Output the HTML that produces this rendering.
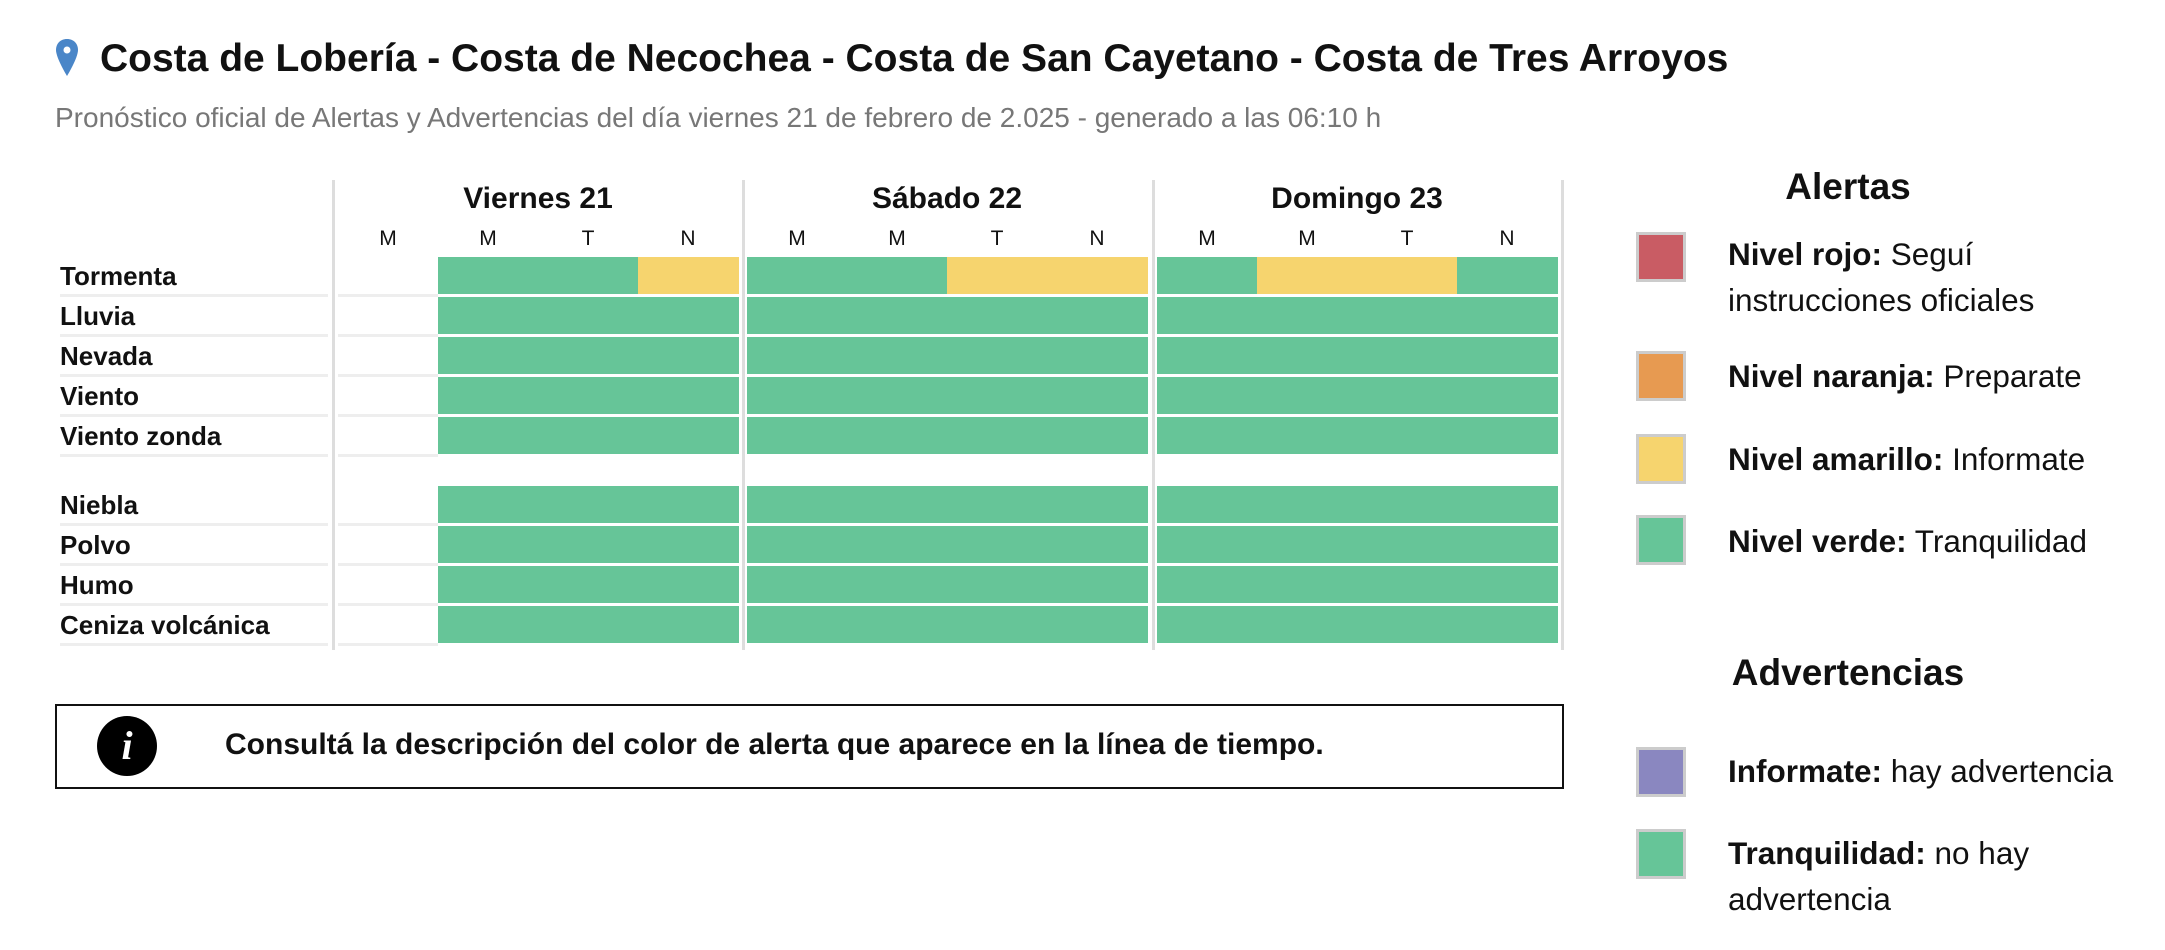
<!DOCTYPE html>
<html><head><meta charset="utf-8"><style>
*{margin:0;padding:0;box-sizing:border-box}
body{width:2165px;height:950px;background:#fff;position:relative;overflow:hidden;font-family:"Liberation Sans",Arial,sans-serif;color:#111}
.a{position:absolute;white-space:nowrap}
.lbl{position:absolute;left:60px;font-weight:bold;font-size:26px;width:268px;height:40px;border-bottom:3px solid #eee;line-height:38px}
.sep{position:absolute;height:3px;background:#eee}
.vl{position:absolute;width:3px;background:#ddd;top:180px;height:470px}
.day{position:absolute;font-weight:bold;font-size:30px;text-align:center;top:182px;width:400px}
.sl{position:absolute;font-size:21px;top:227px;width:100px;text-align:center}
.b{position:absolute;height:37px}
.g{background:#66c598}.y{background:#f6d46e}
.sw{position:absolute;left:1636px;width:50px;height:50px;border:3px solid #ccc}
.lt{position:absolute;left:1728px;font-size:31.5px;line-height:46px}
.lt b{font-weight:bold}
</style></head><body>
<svg class="a" style="left:54px;top:38px" width="26" height="40" viewBox="0 0 26 40"><path d="M13 1C6 1 2 6 2 12c0 8 11 26 11 26s11-18 11-26C24 6 20 1 13 1z" fill="#4a86c8"/><circle cx="13" cy="12" r="3.5" fill="#fff"/></svg>
<div class="a" style="left:100px;top:37px;font-size:39px;font-weight:bold">Costa de Lobería - Costa de Necochea - Costa de San Cayetano - Costa de Tres Arroyos</div>
<div class="a" style="left:55px;top:102px;font-size:28px;color:#777">Pronóstico oficial de Alertas y Advertencias del día viernes 21 de febrero de 2.025 - generado a las 06:10 h</div>

<div class="vl" style="left:332px"></div><div class="vl" style="left:742px"></div><div class="vl" style="left:1152px"></div><div class="vl" style="left:1561px"></div>
<div class="day" style="left:338px">Viernes 21</div>
<div class="day" style="left:747px">Sábado 22</div>
<div class="day" style="left:1157px">Domingo 23</div>
<div class="sl" style="left:338px">M</div><div class="sl" style="left:438px">M</div><div class="sl" style="left:538px">T</div><div class="sl" style="left:638px">N</div>
<div class="sl" style="left:747px">M</div><div class="sl" style="left:847px">M</div><div class="sl" style="left:947px">T</div><div class="sl" style="left:1047px">N</div>
<div class="sl" style="left:1157px">M</div><div class="sl" style="left:1257px">M</div><div class="sl" style="left:1357px">T</div><div class="sl" style="left:1457px">N</div>

<div class="lbl" style="top:257px">Tormenta</div>
<div class="lbl" style="top:297px">Lluvia</div>
<div class="lbl" style="top:337px">Nevada</div>
<div class="lbl" style="top:377px">Viento</div>
<div class="lbl" style="top:417px">Viento zonda</div>
<div class="lbl" style="top:486px">Niebla</div>
<div class="lbl" style="top:526px">Polvo</div>
<div class="lbl" style="top:566px">Humo</div>
<div class="lbl" style="top:606px">Ceniza volcánica</div>

<div class="sep" style="left:338px;width:100px;top:294px"></div>
<div class="sep" style="left:338px;width:100px;top:334px"></div>
<div class="sep" style="left:338px;width:100px;top:374px"></div>
<div class="sep" style="left:338px;width:100px;top:414px"></div>
<div class="sep" style="left:338px;width:100px;top:454px"></div>
<div class="sep" style="left:338px;width:100px;top:523px"></div>
<div class="sep" style="left:338px;width:100px;top:563px"></div>
<div class="sep" style="left:338px;width:100px;top:603px"></div>
<div class="sep" style="left:338px;width:100px;top:643px"></div>

<div class="b g" style="left:438px;width:200px;top:257px"></div><div class="b y" style="left:638px;width:101px;top:257px"></div>
<div class="b g" style="left:747px;width:200px;top:257px"></div><div class="b y" style="left:947px;width:201px;top:257px"></div>
<div class="b g" style="left:1157px;width:100px;top:257px"></div><div class="b y" style="left:1257px;width:200px;top:257px"></div><div class="b g" style="left:1457px;width:101px;top:257px"></div>
<div class="b g" style="left:438px;width:301px;top:297px"></div><div class="b g" style="left:747px;width:401px;top:297px"></div><div class="b g" style="left:1157px;width:401px;top:297px"></div>
<div class="b g" style="left:438px;width:301px;top:337px"></div><div class="b g" style="left:747px;width:401px;top:337px"></div><div class="b g" style="left:1157px;width:401px;top:337px"></div>
<div class="b g" style="left:438px;width:301px;top:377px"></div><div class="b g" style="left:747px;width:401px;top:377px"></div><div class="b g" style="left:1157px;width:401px;top:377px"></div>
<div class="b g" style="left:438px;width:301px;top:417px"></div><div class="b g" style="left:747px;width:401px;top:417px"></div><div class="b g" style="left:1157px;width:401px;top:417px"></div>
<div class="b g" style="left:438px;width:301px;top:486px"></div><div class="b g" style="left:747px;width:401px;top:486px"></div><div class="b g" style="left:1157px;width:401px;top:486px"></div>
<div class="b g" style="left:438px;width:301px;top:526px"></div><div class="b g" style="left:747px;width:401px;top:526px"></div><div class="b g" style="left:1157px;width:401px;top:526px"></div>
<div class="b g" style="left:438px;width:301px;top:566px"></div><div class="b g" style="left:747px;width:401px;top:566px"></div><div class="b g" style="left:1157px;width:401px;top:566px"></div>
<div class="b g" style="left:438px;width:301px;top:606px"></div><div class="b g" style="left:747px;width:401px;top:606px"></div><div class="b g" style="left:1157px;width:401px;top:606px"></div>

<div class="a" style="left:55px;top:704px;width:1509px;height:85px;border:2px solid #111"></div>
<div class="a" style="left:97px;top:716px;width:60px;height:60px;border-radius:50%;background:#000;color:#fff;font-family:'Liberation Serif',serif;font-style:italic;font-weight:bold;font-size:40px;text-align:center;line-height:60px">i</div>
<div class="a" style="left:225px;top:728px;font-size:30px;font-weight:bold">Consultá la descripción del color de alerta que aparece en la línea de tiempo.</div>

<div class="a" style="left:1648px;top:166px;width:400px;text-align:center;font-size:37px;font-weight:bold">Alertas</div>
<div class="sw" style="top:232px;background:#c95c64"></div>
<div class="lt" style="top:231px"><b>Nivel rojo:</b> Seguí<br>instrucciones oficiales</div>
<div class="sw" style="top:351px;background:#e79a51"></div>
<div class="lt" style="top:353px"><b>Nivel naranja:</b> Preparate</div>
<div class="sw" style="top:434px;background:#f6d46e"></div>
<div class="lt" style="top:436px"><b>Nivel amarillo:</b> Informate</div>
<div class="sw" style="top:515px;background:#66c598"></div>
<div class="lt" style="top:518px"><b>Nivel verde:</b> Tranquilidad</div>
<div class="a" style="left:1648px;top:652px;width:400px;text-align:center;font-size:37px;font-weight:bold">Advertencias</div>
<div class="sw" style="top:747px;background:#8a87c0"></div>
<div class="lt" style="top:748px"><b>Informate:</b> hay advertencia</div>
<div class="sw" style="top:829px;background:#66c598"></div>
<div class="lt" style="top:830px"><b>Tranquilidad:</b> no hay<br>advertencia</div>
</body></html>
